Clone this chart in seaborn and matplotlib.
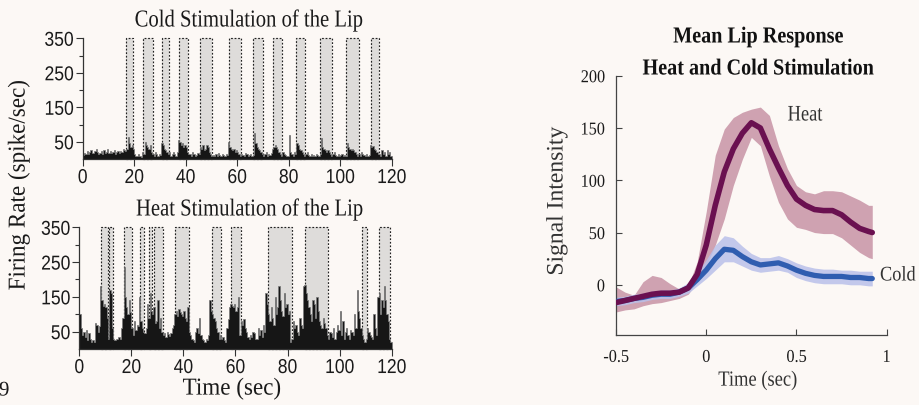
import numpy as np
import pandas as pd
import matplotlib
matplotlib.use("Agg")
import matplotlib.pyplot as plt
from matplotlib.patches import Rectangle
from matplotlib.patheffects import AbstractPathEffect
from matplotlib.transforms import Affine2D
from matplotlib import font_manager
import seaborn as sns

# ---------------- data ----------------
bin_width = 0.5
cold_rate = [12, 18, 15, 22, 14, 20, 25, 16, 18, 22,
             30, 20, 15, 18, 22, 14, 25, 18, 20, 28,
             16, 22, 18, 20, 25, 15, 20, 22, 18, 24,
             20, 28, 25, 22, 30, 65, 45, 35, 40, 28,
             15, 10, 8, 15, 10, 5, 20, 15, 50, 40,
             35, 30, 40, 20, 15, 10, 20, 15, 10, 15,
             12, 45, 40, 30, 25, 20, 15, 20, 10, 15,
             20, 15, 10, 20, 55, 50, 40, 45, 35, 40,
             35, 20, 15, 15, 10, 20, 15, 10, 12, 18,
             15, 35, 30, 40, 25, 30, 40, 35, 20, 15,
             10, 12, 8, 15, 10, 18, 12, 10, 15, 12,
             10, 15, 12, 50, 35, 30, 25, 30, 20, 25,
             20, 15, 10, 15, 12, 10, 18, 15, 10, 12,
             15, 10, 12, 75, 45, 35, 30, 25, 20, 15,
             10, 15, 20, 10, 15, 12, 18, 30, 35, 40,
             35, 30, 20, 15, 10, 20, 15, 12, 10, 8,
             70, 20, 15, 10, 20, 15, 45, 40, 30, 25,
             20, 15, 10, 15, 20, 12, 10, 15, 8, 12,
             10, 15, 12, 10, 15, 60, 35, 30, 25, 20,
             25, 20, 15, 10, 15, 20, 12, 10, 15, 10,
             12, 15, 10, 12, 10, 45, 35, 30, 25, 30,
             25, 20, 15, 10, 15, 10, 20, 15, 12, 10,
             15, 10, 12, 40, 35, 38, 30, 25, 20, 15,
             15, 10, 25, 15, 20, 10, 25, 15, 20, 10]

heat_rate = [100, 60, 40, 50, 35, 55, 25, 45, 30, 20,
             25, 20, 75, 70, 50, 65, 180, 140, 125, 130,
             120, 90, 30, 170, 160, 60, 30, 25, 30, 28,
             35, 30, 60, 90, 235, 150, 120, 100, 140, 105,
             60, 40, 80, 55, 70, 65, 150, 80, 60, 50,
             45, 60, 130, 90, 160, 110, 100, 120, 75, 80,
             140, 60, 90, 50, 40, 45, 35, 50, 42, 38,
             45, 60, 70, 100, 110, 95, 115, 105, 100, 95,
             110, 90, 80, 120, 50, 40, 30, 25, 20, 50,
             60, 45, 90, 40, 30, 25, 20, 30, 25, 40,
             140, 110, 100, 90, 80, 60, 50, 30, 40, 30,
             35, 25, 20, 60, 85, 120, 130, 125, 120, 130,
             110, 120, 150, 40, 80, 70, 85, 60, 50, 35,
             30, 40, 35, 50, 45, 30, 30, 60, 40, 55,
             35, 70, 50, 160, 130, 100, 80, 120, 90, 70,
             150, 100, 120, 180, 140, 110, 95, 160, 120, 130,
             100, 110, 20, 30, 80, 60, 70, 50, 40, 90,
             70, 60, 180, 185, 160, 140, 120, 100, 80, 140,
             130, 90, 150, 110, 80, 70, 60, 90, 75, 60,
             40, 30, 50, 45, 35, 60, 30, 50, 70, 55,
             110, 40, 80, 30, 50, 60, 40, 30, 55, 50,
             40, 100, 60, 170, 110, 90, 60, 40, 30, 20,
             30, 60, 50, 40, 35, 30, 100, 60, 40, 150,
             160, 100, 140, 120, 180, 140, 100, 80, 30, 20]

cold_stim_start = [16.8, 23.6, 30.9, 37.5, 45.7, 57.0, 66.0, 73.9, 83.0, 92.0, 102.3, 111.8]
cold_stim_end = [19.7, 27.2, 33.5, 40.8, 50.1, 61.4, 69.9, 77.4, 86.5, 96.7, 107.2, 115.0]
heat_stim_start = [8.3, 11.5, 17.3, 23.3, 26.8, 28.6, 36.9, 50.9, 58.2, 72.3, 86.7, 108.5, 115.3]
heat_stim_end = [10.9, 13.1, 20.1, 25.0, 28.1, 32.3, 42.3, 54.4, 62.2, 81.8, 95.7, 110.6, 119.4]

resp_time = [-0.5, -0.45, -0.4, -0.35, -0.3, -0.25, -0.2, -0.15, -0.1, -0.05,
             0.0, 0.05, 0.1, 0.15, 0.2, 0.25, 0.3, 0.35, 0.4, 0.45,
             0.5, 0.55, 0.6, 0.65, 0.7, 0.75, 0.8, 0.85, 0.9, 0.92]
heat_mean = [-17, -15, -13, -11, -9, -8, -8, -7, -3, 10, 38, 76, 108, 130, 145,
             155, 150, 130, 112, 95, 82, 76, 72, 71, 71, 67, 60, 54, 51, 50]
heat_upper = [-2, -7, -10, 3, 9, 7, 1, -4, -1, 22, 70, 124, 149, 160, 165,
              168, 170, 162, 133, 111, 95, 89, 87, 90, 90, 89, 85, 81, 76, 76]
heat_lower = [-26, -24, -23, -20, -18, -17, -15, -13, -9, 3, 18, 38, 63, 95, 120,
              141, 133, 104, 79, 63, 55, 53, 50, 49, 49, 45, 38, 31, 26, 25]
cold_mean = [-16, -15, -13, -12, -10, -9, -9, -7, -3, 5, 14, 25, 34, 33, 27,
             22, 19, 20, 21, 18, 14, 11, 9, 8, 8, 8, 7, 7, 6, 6]
cold_upper = [-12, -11, -9, -8, -6, -5, -5, -3, 2, 11, 24, 38, 47, 45, 37,
              30, 26, 26, 28, 25, 21, 18, 16, 15, 15, 14, 14, 13, 13, 13]
cold_lower = [-20, -19, -17, -16, -14, -13, -13, -11, -8, -1, 6, 14, 22, 22, 18,
              14, 12, 13, 14, 12, 7, 4, 2, 1, 1, 1, 0, 0, -1, -1]


# ---------------- helpers ----------------
class Squeeze(AbstractPathEffect):
    """Draw text horizontally condensed (along its baseline)."""
    def __init__(self, sx=0.85, anchor="center"):
        super().__init__()
        self.sx = sx
        self.anchor = anchor

    def draw_path(self, renderer, gc, tpath, affine, rgbFace=None):
        v = tpath.vertices
        if len(v):
            xmin, xmax = float(v[:, 0].min()), float(v[:, 0].max())
            a = {"center": (xmin + xmax) / 2, "right": xmax, "left": xmin}[self.anchor]
        else:
            a = 0.0
        t = Affine2D().translate(-a, 0).scale(self.sx, 1).translate(a, 0)
        renderer.draw_path(gc, tpath, t + affine, rgbFace)


sns.set_theme(style="ticks")
SERIF = ["Liberation Serif", "DejaVu Serif"]
plt.rcParams["font.family"] = SERIF
names = {f.name for f in font_manager.fontManager.ttflist}
NARROW = "Liberation Sans Narrow" if "Liberation Sans Narrow" in names else "Liberation Sans"

BG = "#FCF8F5"
fig = plt.figure(figsize=(9.2, 4.06), dpi=100, facecolor=BG)

W, H = 920.0, 406.0
def fx(px): return px / W
def fy(py): return 1 - py / H

def label(x, y, s, size, sx=0.85, rot=0, ha="center", color="#1a1a1a", weight="normal"):
    t = fig.text(fx(x), fy(y), s, ha=ha, va="center", rotation=rot,
                 fontsize=size, color=color, fontweight=weight)
    t.set_path_effects([Squeeze(sx, "left" if ha == "left" else "center")])
    return t

def hist_panel(ax, rates, starts, ends):
    ax.set_facecolor("none")
    n = len(rates)
    centers = [bin_width * (i + 0.5) for i in range(n)]
    df = pd.DataFrame({"t": centers, "rate": rates})
    for s, e in zip(starts, ends):
        ax.add_patch(Rectangle((s, 0), e - s, 350, facecolor="#DEDCDA",
                               edgecolor="none", zorder=0))
        ax.add_patch(Rectangle((s, 0), e - s, 350, facecolor="none",
                               edgecolor="#222222", linestyle=(0, (1.5, 1.5)),
                               linewidth=0.85, zorder=1, clip_on=False))
    sns.histplot(data=df, x="t", weights="rate", binwidth=bin_width,
                 binrange=(0, bin_width * n), ax=ax,
                 element="step", fill=True, color="#161616", alpha=1,
                 edgecolor="#7a7a7a", linewidth=0.5, zorder=2)
    ax.set_xlim(0, 120)
    ax.set_ylim(0, 350)
    for sp in ["top", "right"]:
        ax.spines[sp].set_visible(False)
    for sp in ["left", "bottom"]:
        ax.spines[sp].set_color("#333333")
        ax.spines[sp].set_linewidth(0.9)
    ax.set_xticks([0, 20, 40, 60, 80, 100, 120])
    ax.set_yticks([50, 150, 250, 350])
    ax.set_yticks([100, 200, 300], minor=True)
    ax.tick_params(axis="both", which="major", direction="out", length=5,
                   width=0.8, color="#333333", pad=1.5, labelsize=14.5,
                   labelcolor="#1a1a1a")
    ax.tick_params(axis="y", which="minor", direction="out", length=3,
                   width=0.8, color="#333333")
    for lab in ax.get_xticklabels():
        lab.set_family(NARROW)
        lab.set_path_effects([Squeeze(0.87, "center")])
    for lab in ax.get_yticklabels():
        lab.set_family(NARROW)
        lab.set_path_effects([Squeeze(0.87, "right")])
    ax.set_xlabel("")
    ax.set_ylabel("")

ax1 = fig.add_axes([fx(82.7), fy(160), fx(391.7 - 82.7), (160 - 39.3) / H])
hist_panel(ax1, cold_rate, cold_stim_start, cold_stim_end)
ax2 = fig.add_axes([fx(79.3), fy(350), fx(391.7 - 79.3), (350 - 228.3) / H])
hist_panel(ax2, heat_rate, heat_stim_start, heat_stim_end)

label(249, 22, "Cold Stimulation of the Lip", 17.5, 0.85)
label(250, 211, "Heat Stimulation of the Lip", 17.5, 0.85)
label(19, 186, "Firing Rate (spike/sec)", 17.5, 0.95, rot=90)
label(232, 390, "Time (sec)", 17.5, 0.95)
label(-1, 392, "9", 15, 1.0, ha="left")

# ---------------- right panel ----------------
ax3 = fig.add_axes([fx(616), fy(336), fx(886.7 - 616), (336 - 76.7) / H])
ax3.set_facecolor("none")
resp = pd.DataFrame({"time": resp_time, "heat": heat_mean, "cold": cold_mean})
ax3.fill_between(resp_time, heat_lower, heat_upper, color="#CFA2B1",
                 linewidth=0, zorder=1)
ax3.fill_between(resp_time, cold_lower, cold_upper, color="#B9C0EA",
                 alpha=0.85, linewidth=0, zorder=2)
sns.lineplot(data=resp, x="time", y="cold", ax=ax3, color="#2F5DB0",
             linewidth=3.8, zorder=3, solid_capstyle="round")
sns.lineplot(data=resp, x="time", y="heat", ax=ax3, color="#6A1050",
             linewidth=4.0, zorder=4, solid_capstyle="round")
ax3.set_xlim(-0.5, 1.0)
ax3.set_ylim(-48, 200)
ax3.set_xticks([-0.5, 0, 0.5, 1])
ax3.set_xticklabels(["-0.5", "0", "0.5", "1"])
ax3.set_yticks([0, 50, 100, 150, 200])
for sp in ["top", "right"]:
    ax3.spines[sp].set_visible(False)
for sp in ["left", "bottom"]:
    ax3.spines[sp].set_color("#444444")
    ax3.spines[sp].set_linewidth(0.9)
ax3.tick_params(axis="both", direction="in", length=4, width=0.8,
                color="#444444", labelsize=13, labelcolor="#1a1a1a")
ax3.tick_params(axis="x", pad=10)
ax3.tick_params(axis="y", pad=8)
for lab in ax3.get_xticklabels():
    lab.set_path_effects([Squeeze(0.9, "center")])
for lab in ax3.get_yticklabels():
    lab.set_path_effects([Squeeze(0.9, "right")])
ax3.set_xlabel("")
ax3.set_ylabel("")

label(758, 38, "Mean Lip Response", 16.5, 0.88, color="#111111", weight="bold")
label(758, 70, "Heat and Cold Stimulation", 16.5, 0.88, color="#111111", weight="bold")
label(557, 202, "Signal Intensity", 17, 1.0, rot=90, color="#333333")
label(758, 382, "Time (sec)", 15.5, 0.86, color="#333333")
label(805, 117, "Heat", 16, 0.83, color="#333333")
label(880, 277, "Cold", 15, 0.88, ha="left", color="#333333")

fig.savefig("out.png", dpi=100, facecolor=BG)
